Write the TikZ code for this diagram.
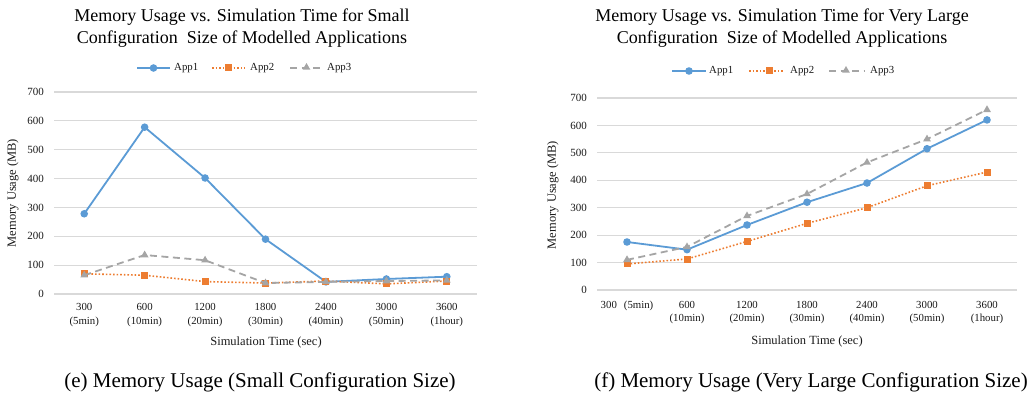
\documentclass[tikz,border=0pt]{standalone}
\usepackage{fontspec}
\setmainfont{Liberation Serif}
\usetikzlibrary{shapes.geometric}
\definecolor{serA}{HTML}{5B9BD5}
\definecolor{serB}{HTML}{ED7D31}
\definecolor{serC}{HTML}{A5A5A5}
\definecolor{gridc}{HTML}{D9D9D9}
\tikzset{
  gridline/.style={draw=gridc, line width=1.1pt},
  ticklbl/.style={font=\fontsize{11}{12}\selectfont, text=black!90, inner sep=0pt},
  catlbl/.style={font=\fontsize{10.8}{13.5}\selectfont, text=black!90, align=center, inner sep=0pt},
  axtitle/.style={font=\fontsize{12.5}{14}\selectfont, text=black!90, inner sep=0pt},
  ctitle/.style={font=\fontsize{18}{22}\selectfont, align=center, inner sep=0pt},
  capt/.style={font=\fontsize{21}{24}\selectfont, inner sep=0pt},
  legtxt/.style={font=\fontsize{10.8}{12}\selectfont, text=black!90, anchor=west, inner sep=0pt},
  lnA/.style={draw=serA, line width=1.8pt, line join=round},
  lnB/.style={draw=serB, line width=1.6pt, dash pattern=on 1.6pt off 2pt},
  lnC/.style={draw=serC, line width=1.8pt, dash pattern=on 7pt off 4.5pt},
  mkA/.style={circle, fill=serA, inner sep=0pt, minimum size=7.6pt},
  mkB/.style={rectangle, fill=serB, inner sep=0pt, minimum size=7pt},
  mkC/.style={regular polygon, regular polygon sides=3, fill=serC, inner sep=0pt, minimum size=9pt},
}
% one data series: #1 name, #2 line style, #3 marker style, #4 category width, #5 values
\newcommand{\drawseries}[5]{%
  \foreach \v [count=\i] in {#5} \coordinate (#1-\i) at ({(\i-0.5)*#4},\v);
  \draw[#2] (#1-1) \foreach \i in {2,...,7} {-- (#1-\i)};
  \foreach \i in {1,...,7} \node[#3] (#1m-\i) at (#1-\i) {};
}
\begin{document}
\begin{tikzpicture}[x=1pt,y=-1pt]
\useasboundingbox (0,0) rectangle (1032,395);

% ---------- left chart: small configuration ----------
\node[ctitle] (ttlL) at (242,28) {Memory Usage vs. Simulation Time for Small\\Configuration\ \ Size of Modelled Applications};

\coordinate (lgLA1) at (137,68); \coordinate (lgLA2) at (170,68);
\draw[lnA] (lgLA1) -- (lgLA2);
\node[mkA] (lgLAm) at (153.5,68) {};
\node[legtxt] (lgLAt) at (174,68) {App1};
\coordinate (lgLB1) at (212,68); \coordinate (lgLB2) at (245,68);
\draw[lnB] (lgLB1) -- (lgLB2);
\node[mkB] (lgLBm) at (228.5,68) {};
\node[legtxt] (lgLBt) at (250,68) {App2};
\coordinate (lgLC1) at (290,68); \coordinate (lgLC2) at (323,68);
\draw[lnC] (lgLC1) -- (lgLC2);
\node[mkC] (lgLCm) at (306.5,67.5) {};
\node[legtxt] (lgLCt) at (327,68) {App3};

\begin{scope}[shift={(54pt,-294pt)}, x=1pt, y=0.2886pt]
  \foreach \g in {0,100,...,700} {
    \draw[gridline] (0,\g) -- (423,\g);
    \node[ticklbl, anchor=east] (ylL\g) at (-10,\g) {\g};
  }
  \foreach \t [count=\i] in {300\\(5min),600\\(10min),1200\\(20min),1800\\(30min),2400\\(40min),3000\\(50min),3600\\(1hour)}
    \node[catlbl] (xlL\i) at ({(\i-0.5)*60.43},-73) {\t};
  \drawseries{LA}{lnA}{mkA}{60.43}{278,578,402,190,42,52,60}
  \drawseries{LB}{lnB}{mkB}{60.43}{70,65,43,38,45,35,45}
  \drawseries{LC}{lnC}{mkC}{60.43}{65,135,117,38,42,45,47}
\end{scope}

\node[axtitle] (axxL) at (266,342) {Simulation Time (sec)};
\node[axtitle, rotate=90] (axyL) at (13,193) {Memory Usage (MB)};
\node[capt] (capL) at (260,382) {(e) Memory Usage (Small Configuration Size)};

% ---------- right chart: very large configuration ----------
\node[ctitle] (ttlR) at (782,28) {Memory Usage vs. Simulation Time for Very Large\\Configuration\ \ Size of Modelled Applications};

\coordinate (lgRA1) at (672,71); \coordinate (lgRA2) at (706,71);
\draw[lnA] (lgRA1) -- (lgRA2);
\node[mkA] (lgRAm) at (689,71) {};
\node[legtxt] (lgRAt) at (709,71) {App1};
\coordinate (lgRB1) at (749,71); \coordinate (lgRB2) at (784,71);
\draw[lnB] (lgRB1) -- (lgRB2);
\node[mkB] (lgRBm) at (769,71) {};
\node[legtxt] (lgRBt) at (790,71) {App2};
\coordinate (lgRC1) at (829,71); \coordinate (lgRC2) at (864,71);
\draw[lnC] (lgRC1) -- (lgRC2);
\node[mkC] (lgRCm) at (846,70.5) {};
\node[legtxt] (lgRCt) at (870,71) {App3};

\begin{scope}[shift={(597pt,-290pt)}, x=1pt, y=0.2743pt]
  \foreach \g in {0,100,...,700} {
    \draw[gridline] (0,\g) -- (420,\g);
    \node[ticklbl, anchor=east] (ylR\g) at (-10,\g) {\g};
  }
  \node[catlbl] (xlR1) at (30,-58) {300\hspace{7pt}(5min)};
  \foreach \t [count=\i from 2] in {600\\(10min),1200\\(20min),1800\\(30min),2400\\(40min),3000\\(50min),3600\\(1hour)}
    \node[catlbl, font=\fontsize{10.8}{13}\selectfont] (xlR\i) at ({(\i-0.5)*60},-82) {\t};
  \drawseries{RA}{lnA}{mkA}{60}{175,147,237,320,390,515,620}
  \drawseries{RB}{lnB}{mkB}{60}{95,113,177,243,300,380,430}
  \drawseries{RC}{lnC}{mkC}{60}{110,157,270,350,465,550,657}
\end{scope}

\node[axtitle] (axxR) at (807,341) {Simulation Time (sec)};
\node[axtitle, rotate=90] (axyR) at (553,195) {Memory Usage (MB)};
\node[capt] (capR) at (811,382) {(f) Memory Usage (Very Large Configuration Size)};
\end{tikzpicture}
\end{document}
